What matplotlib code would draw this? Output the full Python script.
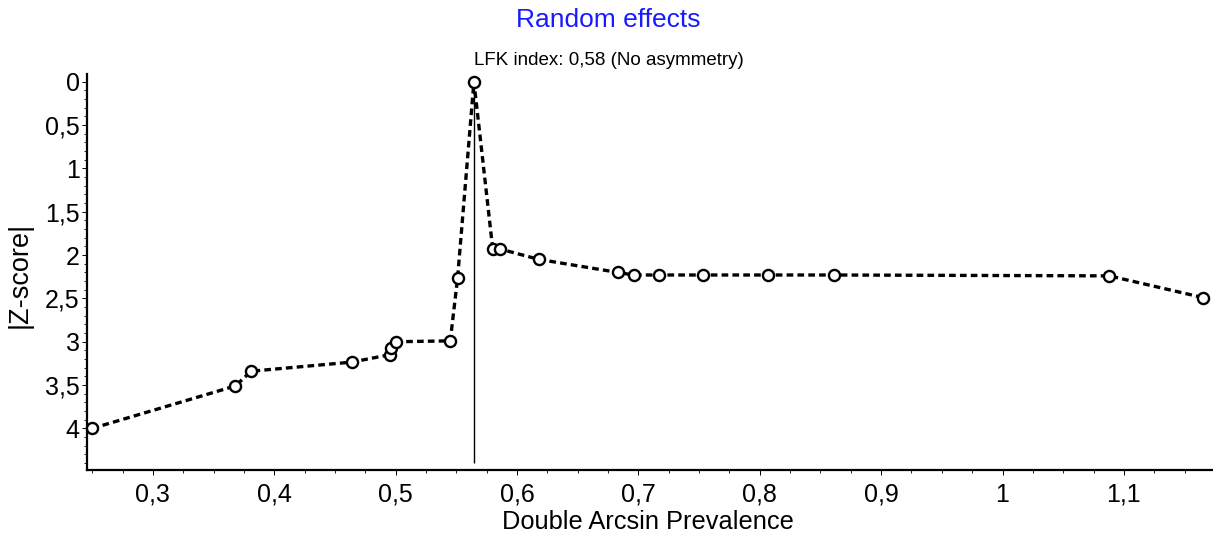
import matplotlib
matplotlib.use("Agg")
import matplotlib.pyplot as plt
from matplotlib.ticker import MultipleLocator, FuncFormatter

plt.rcParams['font.family'] = ['Liberation Sans', 'DejaVu Sans']

# Data
prevalence = [0.250, 0.368, 0.381, 0.464, 0.495, 0.496, 0.500, 0.545, 0.551, 0.5645,
              0.580, 0.586, 0.618, 0.683, 0.696, 0.717, 0.753, 0.807, 0.861, 1.088, 1.165]
zscore = [4.00, 3.51, 3.34, 3.235, 3.15, 3.07, 3.00, 2.99, 2.27, 0.00,
          1.93, 1.93, 2.05, 2.20, 2.23, 2.23, 2.23, 2.23, 2.23, 2.24, 2.49]
pooled_estimate = 0.5645
x_ticks = [0.3, 0.4, 0.5, 0.6, 0.7, 0.8, 0.9, 1.0, 1.1]
y_ticks = [0, 0.5, 1, 1.5, 2, 2.5, 3, 3.5, 4]
title = "Random effects"
subtitle = "LFK index: 0,58 (No asymmetry)"

fig = plt.figure(figsize=(12.13, 5.45), dpi=100)
ax = fig.add_axes([0.0721, 0.1376, 0.9279, 0.7266])

ax.vlines(pooled_estimate, 0, 4.40, color='black', linewidth=1.0, zorder=1)
ax.plot(prevalence, zscore, linestyle=(0, (2.0, 1.25)), color='black', linewidth=2.4,
        marker='o', markersize=8, markerfacecolor='white', markeredgecolor='black',
        markeredgewidth=1.7, zorder=3, clip_on=False)

ax.set_xlim(0.2461, 1.1734)
ax.set_ylim(4.48, -0.089)

ax.set_xticks(x_ticks)
ax.set_yticks(y_ticks)
ax.xaxis.set_minor_locator(MultipleLocator(0.025))
ax.yaxis.set_minor_locator(MultipleLocator(0.1))

def comma_fmt(v, pos):
    s = f"{v:.1f}".rstrip('0').rstrip('.')
    if s == '-0':
        s = '0'
    return s.replace('.', ',')

ax.xaxis.set_major_formatter(FuncFormatter(comma_fmt))
ax.yaxis.set_major_formatter(FuncFormatter(comma_fmt))

for s in ['top', 'right']:
    ax.spines[s].set_visible(False)
for s in ['left', 'bottom']:
    ax.spines[s].set_linewidth(1.6)

ax.tick_params(axis='both', which='major', length=3.3, width=0.7, labelsize=18, direction='out')
ax.tick_params(axis='x', which='major', pad=6)
ax.tick_params(axis='y', which='major', pad=2.4)
ax.tick_params(axis='both', which='minor', length=2.0, width=0.6, direction='out')

ax.set_xlabel("Double Arcsin Prevalence", fontsize=18.3)
ax.set_ylabel("|Z-score|", fontsize=19.5)
ax.xaxis.set_label_coords(0.498, -0.102)
ax.yaxis.set_label_coords(-0.0484, 0.492)

fig.text(0.5015, 1 - 27 / 545, title, color='#1a1aff', fontsize=19, ha='center', va='baseline')
fig.text(0.502, 1 - 65 / 545, subtitle, color='black', fontsize=13.5, ha='center', va='baseline')

fig.savefig("out.png", dpi=100)
